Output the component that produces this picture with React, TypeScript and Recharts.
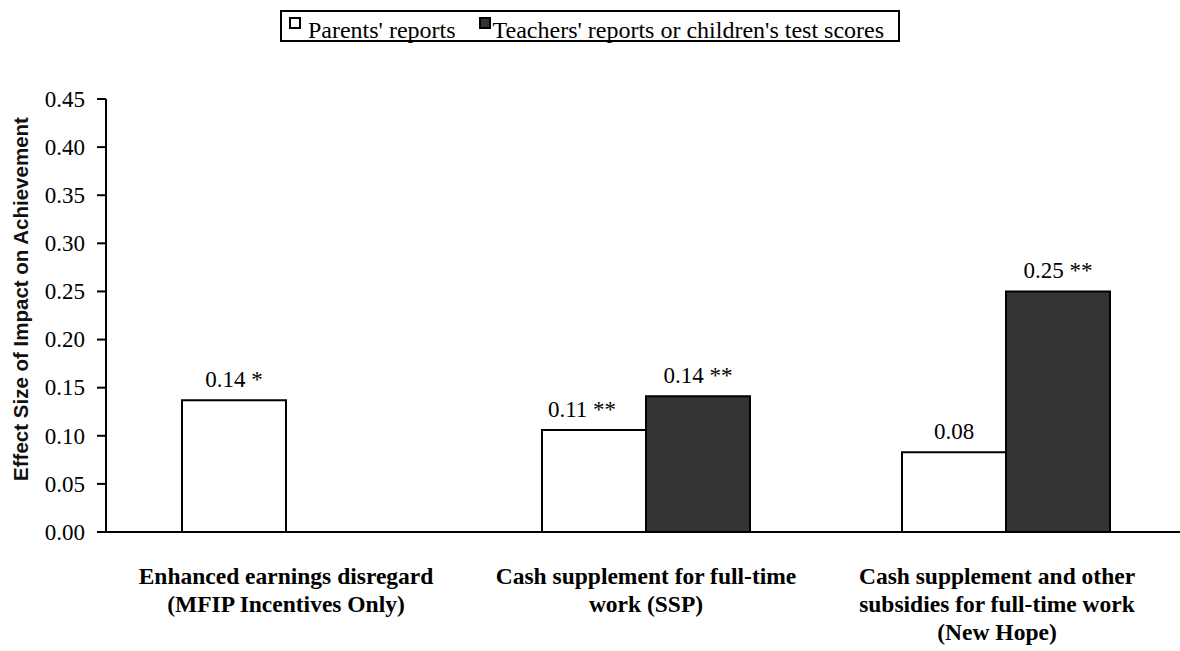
import { BarChart, Bar, XAxis, YAxis, Legend, LabelList } from 'recharts'

const SERIF = "'Liberation Serif', 'Times New Roman', Times, serif"
const SANS = "'Liberation Sans', Arial, Helvetica, sans-serif"

const categories = [
  'Enhanced earnings disregard\n(MFIP Incentives Only)',
  'Cash supplement for full-time\nwork (SSP)',
  'Cash supplement and other\nsubsidies for full-time work\n(New Hope)',
]
const parents = [0.137, 0.106, 0.083]
const teachers = [null, 0.141, 0.25]
const parentLabels = ['0.14 *', '0.11 **', '0.08']
const teacherLabels = [null, '0.14 **', '0.25 **']
const yTicks = [0, 0.05, 0.1, 0.15, 0.2, 0.25, 0.3, 0.35, 0.4, 0.45]

const series = [
  { key: 'parents', name: "Parents' reports", fill: '#ffffff' },
  { key: 'teachers', name: "Teachers' reports or children's test scores", fill: '#333333' },
]

const data = categories.map((name, i) => ({
  name,
  parents: parents[i],
  teachers: teachers[i],
  parentsLabel: parentLabels[i],
  teachersLabel: teacherLabels[i],
}))

// small nudges seen in the original layout
const labelShift: Record<string, number> = { '0.11 **': -12 }
const tickShift = [0, 0, -9]

const serifText = { fontFamily: SERIF }

const renderBarLabel = (props: any) => {
  const { x, y, width, value } = props
  if (!value) return null
  return (
    <text
      x={x + width / 2 + (labelShift[value] || 0)}
      y={y - 13}
      textAnchor="middle"
      style={serifText}
      fontSize={23}
      fill="#000"
    >
      {value}
    </text>
  )
}

const CategoryTick = ({ x, y, payload }: any) => {
  const lines = String(payload.value).split('\n')
  const cx = x + (tickShift[payload.index] || 0)
  return (
    <text x={cx} y={y + 44} textAnchor="middle" style={serifText} fontSize={23.5} fontWeight="bold" fill="#000">
      {lines.map((line, i) => (
        <tspan key={i} x={cx} dy={i === 0 ? 0 : 28}>
          {line}
        </tspan>
      ))}
    </text>
  )
}

const ValueTick = ({ x, y, payload }: any) => (
  <text x={x} y={y} dy="0.34em" textAnchor="end" style={serifText} fontSize={23} fill="#000">
    {Number(payload.value).toFixed(2)}
  </text>
)

const renderYTitle = (props: any) => (
  <text
    x={20}
    y={299}
    transform="rotate(-90 20 299)"
    textAnchor="middle"
    dominantBaseline="central"
    style={{ fontFamily: SANS }}
    fontSize={20.5}
    fontWeight="bold"
    fill="#111"
  >
    {props.value}
  </text>
)

const renderLegend = () => (
  <div style={{ textAlign: 'center' }}>
    <div
      style={{
        display: 'inline-block',
        border: '2px solid #000',
        height: 28,
        lineHeight: '36px',
        padding: '0 14px 0 7px',
        fontFamily: SERIF,
        fontSize: 24,
        whiteSpace: 'nowrap',
        textAlign: 'left',
        color: '#000',
      }}
    >
      {series.map((s, i) => (
        <span key={s.key} style={{ marginLeft: i ? 23 : 0 }}>
          <span
            style={{
              display: 'inline-block',
              width: 12,
              height: 12,
              boxSizing: 'border-box',
              border: '2px solid #000',
              background: s.fill,
              marginRight: i ? 2 : 7,
              verticalAlign: '9px',
            }}
          />
          {s.name}
        </span>
      ))}
    </div>
  </div>
)

export default function App() {
  return (
    <div
      style={{
        position: 'absolute',
        left: 0,
        top: 0,
        width: 1180,
        height: 651,
        overflow: 'hidden',
        background: '#fff',
        fontFamily: SERIF,
      }}
    >
      <BarChart
        width={1190}
        height={651}
        data={data}
        margin={{ top: 99, right: 4, bottom: 0, left: 0 }}
        barSize={104}
        barGap={0}
      >
        <XAxis
          dataKey="name"
          height={119}
          axisLine={{ stroke: '#000', strokeWidth: 2 }}
          tickLine={false}
          tick={<CategoryTick />}
          interval={0}
        />
        <YAxis
          width={106}
          domain={[0, 0.45]}
          ticks={yTicks}
          axisLine={{ stroke: '#000', strokeWidth: 2 }}
          tickLine={{ stroke: '#000', strokeWidth: 2 }}
          tickSize={9}
          tickMargin={12}
          tick={<ValueTick />}
          interval={0}
          label={{ value: 'Effect Size of Impact on Achievement', content: renderYTitle }}
        />
        <Legend
          content={renderLegend}
          layout="horizontal"
          verticalAlign="middle"
          align="center"
          wrapperStyle={{ top: 10, left: 0, width: 1180 }}
        />
        {series.map((s) => (
          <Bar
            key={s.key}
            dataKey={s.key}
            name={s.name}
            fill={s.fill}
            stroke="#000"
            strokeWidth={2}
            isAnimationActive={false}
          >
            <LabelList dataKey={`${s.key}Label`} content={renderBarLabel} />
          </Bar>
        ))}
      </BarChart>
    </div>
  )
}
